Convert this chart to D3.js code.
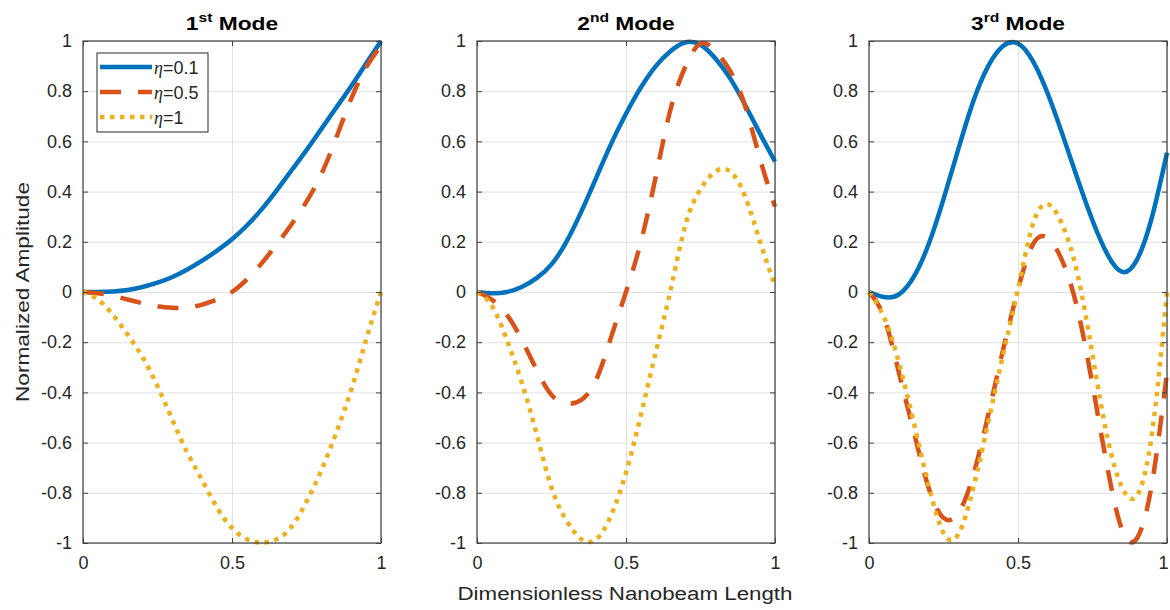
<!DOCTYPE html>
<html>
<head>
<meta charset="utf-8">
<script src="https://cdn.jsdelivr.net/npm/d3@7"></script>
<style>
  body { margin: 0; background: #fff; }
  svg { display: block; font-family: "Liberation Sans", Arial, sans-serif; }
</style>
</head>
<body>
<div id="chart"></div>
<script>
// sample positions along the beam (every 0.05)
const xPts = [0, 0.05, 0.1, 0.15, 0.2, 0.25, 0.3, 0.35, 0.4, 0.45, 0.5,
              0.55, 0.6, 0.65, 0.7, 0.75, 0.8, 0.85, 0.9, 0.95, 1];

// 1st mode
const mode1Eta01 = [0, 0, 0.002, 0.008, 0.02, 0.037, 0.06, 0.09, 0.125, 0.165, 0.21,
                    0.265, 0.33, 0.405, 0.485, 0.565, 0.65, 0.735, 0.82, 0.91, 1];
const mode1Eta05 = [0, -0.005, -0.015, -0.03, -0.045, -0.057, -0.063, -0.062, -0.05, -0.03, 0,
                    0.05, 0.115, 0.19, 0.27, 0.36, 0.47, 0.615, 0.77, 0.895, 0.98];
const mode1Eta1  = [0, -0.03, -0.09, -0.17, -0.26, -0.375, -0.51, -0.64, -0.75, -0.86, -0.94,
                    -0.985, -0.998, -0.985, -0.935, -0.835, -0.71, -0.56, -0.39, -0.19, 0];

// 2nd mode
const mode2Eta01 = [0, -0.005, 0, 0.02, 0.055, 0.11, 0.2, 0.32, 0.455, 0.59, 0.71,
                    0.815, 0.9, 0.96, 0.995, 0.985, 0.93, 0.85, 0.745, 0.63, 0.52];
const mode2Eta05 = [0, -0.03, -0.09, -0.19, -0.31, -0.41, -0.445, -0.43, -0.35, -0.18, 0,
                    0.2, 0.46, 0.73, 0.9, 0.99, 0.96, 0.88, 0.74, 0.53, 0.34];
const mode2Eta1  = [0, -0.055, -0.19, -0.36, -0.565, -0.78, -0.91, -0.985, -0.985, -0.89, -0.72,
                    -0.49, -0.24, 0.01, 0.27, 0.41, 0.48, 0.48, 0.38, 0.2, 0.025];

// 3rd mode
const mode3Eta01 = [0, -0.02, -0.01, 0.06, 0.19, 0.37, 0.57, 0.76, 0.9, 0.98, 0.99,
                    0.92, 0.79, 0.625, 0.45, 0.285, 0.15, 0.08, 0.13, 0.3, 0.555];
const mode3Eta05 = [0, -0.1, -0.32, -0.555, -0.78, -0.9, -0.88, -0.73, -0.49, -0.23, 0.01,
                    0.19, 0.215, 0.12, -0.07, -0.37, -0.7, -0.95, -0.98, -0.76, -0.32];
const mode3Eta1  = [0, -0.1, -0.28, -0.52, -0.77, -0.96, -0.965, -0.78, -0.52, -0.25, 0.01,
                    0.27, 0.35, 0.265, 0.07, -0.25, -0.58, -0.78, -0.81, -0.56, 0];

const seriesNames = ["0.1", "0.5", "1"];
const modeNums = ["1", "2", "3"];
const modeSups = ["st", "nd", "rd"];

const xTicks = [0, 0.5, 1];
const xTickLabels = ["0", "0.5", "1"];
const yTicks = [-1, -0.8, -0.6, -0.4, -0.2, 0, 0.2, 0.4, 0.6, 0.8, 1];
const yTickLabels = ["-1", "-0.8", "-0.6", "-0.4", "-0.2", "0", "0.2", "0.4", "0.6", "0.8", "1"];

const panels = [
  [mode1Eta01, mode1Eta05, mode1Eta1],
  [mode2Eta01, mode2Eta05, mode2Eta1],
  [mode3Eta01, mode3Eta05, mode3Eta1]
];

const width = 1170, height = 610;
const panelLeft = [83, 477, 869];
const panelW = 298;
const plotTop = 41, plotBottom = 543;

const colors = ["#0072BD", "#D95319", "#EDB120"];
const dashes = [null, "21,17", "4.5,5.5"];
const textCol = "#262626";

const svg = d3.select("#chart").append("svg")
  .attr("width", width)
  .attr("height", height);

const y = d3.scaleLinear().domain([-1, 1]).range([plotBottom, plotTop]);

panels.forEach((series, pi) => {
  const x0 = panelLeft[pi];
  const x = d3.scaleLinear().domain([0, 1]).range([x0, x0 + panelW]);
  const g = svg.append("g");

  // grid lines
  g.append("g")
    .attr("transform", `translate(${x0},0)`)
    .call(d3.axisLeft(y).tickValues(yTicks).tickSize(-panelW).tickFormat(""))
    .call(a => a.select(".domain").remove())
    .call(a => a.selectAll("line").attr("stroke", "#e1e1e1"));
  g.append("g")
    .attr("transform", `translate(0,${plotBottom})`)
    .call(d3.axisBottom(x).tickValues(xTicks).tickSize(-(plotBottom - plotTop)).tickFormat(""))
    .call(a => a.select(".domain").remove())
    .call(a => a.selectAll("line").attr("stroke", "#e1e1e1"));

  // curves
  const line = d3.line()
    .x((d, i) => x(xPts[i]))
    .y(d => y(d))
    .curve(d3.curveNatural);

  series.forEach((vals, si) => {
    g.append("path")
      .datum(vals)
      .attr("d", line)
      .attr("fill", "none")
      .attr("stroke", colors[si])
      .attr("stroke-width", 4.5)
      .attr("stroke-dasharray", dashes[si])
      .attr("stroke-linecap", "butt")
      .attr("stroke-linejoin", "round");
  });

  // axes with inward ticks
  g.append("g")
    .attr("transform", `translate(${x0},0)`)
    .call(d3.axisLeft(y).tickValues(yTicks).tickSize(-5).tickPadding(11)
      .tickFormat((d, i) => yTickLabels[i]))
    .call(a => a.select(".domain").remove())
    .call(a => a.selectAll("line").attr("stroke", "#404040"))
    .call(a => a.selectAll("text").attr("font-size", 18).attr("fill", textCol)
      .attr("font-family", "Liberation Sans, Arial, sans-serif"));
  g.append("g")
    .attr("transform", `translate(${x0 + panelW},0)`)
    .call(d3.axisRight(y).tickValues(yTicks).tickSize(-5).tickFormat(""))
    .call(a => a.select(".domain").remove())
    .call(a => a.selectAll("line").attr("stroke", "#404040"));
  g.append("g")
    .attr("transform", `translate(0,${plotBottom})`)
    .call(d3.axisBottom(x).tickValues(xTicks).tickSize(-5).tickPadding(13)
      .tickFormat((d, i) => xTickLabels[i]))
    .call(a => a.select(".domain").remove())
    .call(a => a.selectAll("line").attr("stroke", "#404040"))
    .call(a => a.selectAll("text").attr("font-size", 18).attr("fill", textCol)
      .attr("font-family", "Liberation Sans, Arial, sans-serif")
      // keep the last label of the right panel inside the page
      .attr("dx", (d, i) => (pi === 2 && i === xTicks.length - 1) ? -4 : 0));
  g.append("g")
    .attr("transform", `translate(0,${plotTop})`)
    .call(d3.axisTop(x).tickValues(xTicks).tickSize(-5).tickFormat(""))
    .call(a => a.select(".domain").remove())
    .call(a => a.selectAll("line").attr("stroke", "#404040"));

  g.append("rect")
    .attr("x", x0).attr("y", plotTop)
    .attr("width", panelW).attr("height", plotBottom - plotTop)
    .attr("fill", "none")
    .attr("stroke", "#404040")
    .attr("stroke-width", 1.2);

  // title
  const t = g.append("text")
    .attr("transform", `translate(${x0 + panelW / 2},30) scale(1.2,1)`)
    .attr("text-anchor", "middle")
    .attr("font-weight", "bold")
    .attr("font-size", 19)
    .attr("fill", "#000");
  t.append("tspan").text(modeNums[pi]);
  t.append("tspan").attr("font-size", 13).attr("dy", -8).text(modeSups[pi]);
  t.append("tspan").attr("dy", 8).text(" Mode");
});

// legend in first panel
const leg = svg.append("g");
leg.append("rect")
  .attr("x", 97).attr("y", 53).attr("width", 111).attr("height", 79)
  .attr("fill", "#fff").attr("stroke", "#262626").attr("stroke-width", 1);
const legY = [67, 92, 117];
seriesNames.forEach((n, i) => {
  leg.append("line")
    .attr("x1", 100).attr("x2", 152)
    .attr("y1", legY[i]).attr("y2", legY[i])
    .attr("stroke", colors[i]).attr("stroke-width", 4.5)
    .attr("stroke-dasharray", dashes[i]);
  const tx = leg.append("text")
    .attr("x", 154).attr("y", legY[i] + 7)
    .attr("font-size", 18).attr("fill", textCol);
  tx.append("tspan").attr("font-family", "Liberation Serif, Times New Roman, serif")
    .attr("font-style", "italic").text("η");
  tx.append("tspan").text("=" + n);
});

// axis labels
svg.append("text")
  .attr("x", 625).attr("y", 600)
  .attr("text-anchor", "middle")
  .attr("font-size", 18).attr("fill", textCol)
  .attr("textLength", 335).attr("lengthAdjust", "spacingAndGlyphs")
  .text("Dimensionless Nanobeam Length");

svg.append("text")
  .attr("transform", "translate(29,292) rotate(-90)")
  .attr("text-anchor", "middle")
  .attr("font-size", 18).attr("fill", textCol)
  .attr("textLength", 220).attr("lengthAdjust", "spacingAndGlyphs")
  .text("Normalized Amplitude");
</script>
</body>
</html>
